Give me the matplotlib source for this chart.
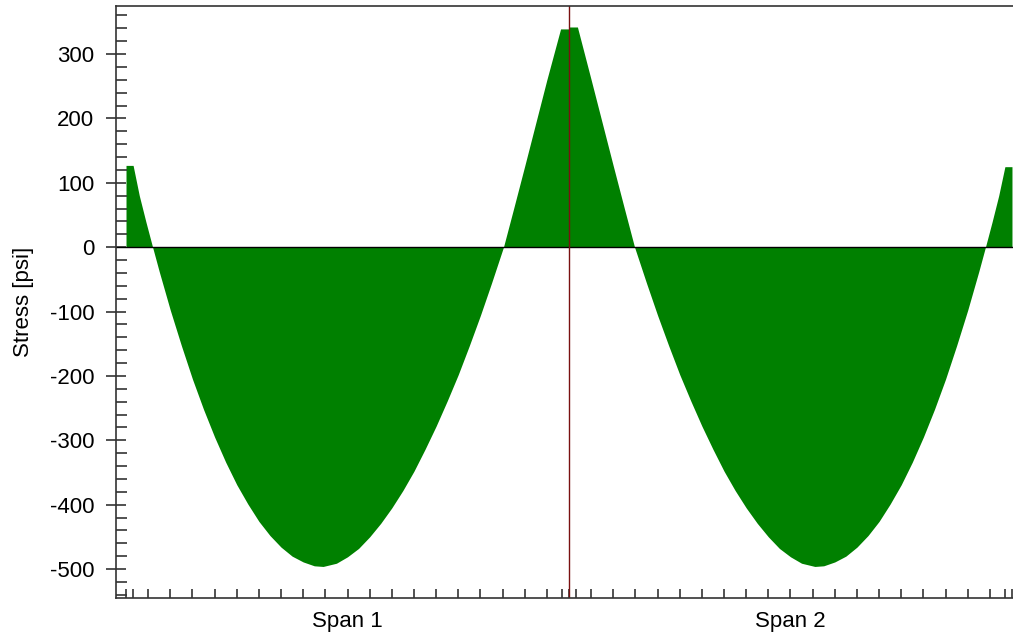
import matplotlib
matplotlib.use("Agg")
import matplotlib.pyplot as plt
from matplotlib.ticker import MultipleLocator, FixedLocator

# Position along the beam, in spans (0 = left support, 1 = middle support, 2 = right support)
span_pos = [
    0.000, 0.016, 0.030, 0.045, 0.060, 0.075, 0.100, 0.125, 0.150, 0.175,
    0.200, 0.225, 0.250, 0.275, 0.300, 0.325, 0.350, 0.375, 0.400, 0.425,
    0.445, 0.475, 0.500, 0.525, 0.550, 0.575, 0.600, 0.625, 0.650, 0.675,
    0.700, 0.725, 0.750, 0.775, 0.800, 0.825, 0.852, 0.875, 0.900, 0.925,
    0.950, 0.981, 1.000,
    1.000, 1.019, 1.050, 1.075, 1.100, 1.125, 1.148, 1.175, 1.200, 1.225,
    1.250, 1.275, 1.300, 1.325, 1.350, 1.375, 1.400, 1.425, 1.450, 1.475,
    1.500, 1.525, 1.555, 1.575, 1.600, 1.625, 1.650, 1.675, 1.700, 1.725,
    1.750, 1.775, 1.800, 1.825, 1.850, 1.875, 1.900, 1.925, 1.940, 1.955,
    1.970, 1.984, 2.000,
]
# Stress [psi]
stress = [
    127, 127, 80, 39, 0, -38, -98, -153, -205, -252,
    -295, -334, -369, -399, -426, -448, -466, -480, -489, -495,
    -496, -491, -481, -468, -450, -429, -405, -378, -348, -314,
    -278, -239, -198, -153, -106, -56, 0, 60, 126, 193,
    260, 339, 339,
    342, 342, 260, 193, 126, 60, 0, -56, -106, -153,
    -198, -239, -278, -314, -348, -378, -405, -429, -450, -468,
    -481, -491, -496, -495, -489, -480, -466, -448, -426, -399,
    -369, -334, -295, -252, -205, -153, -98, -38, 0, 39,
    80, 125, 125,
]

span_labels = ["Span 1", "Span 2"]
span_label_pos = [0.5, 1.5]
middle_support = 1.0
# tick marks along the beam: every 0.05 span plus the support faces
beam_ticks = [i * 0.05 for i in range(41)] + [0.016, 0.984, 1.016, 1.984]

plt.rcParams["font.family"] = ["Liberation Sans", "DejaVu Sans"]
plt.rcParams["axes.unicode_minus"] = False

W, H = 1013, 639
fig = plt.figure(figsize=(W / 100, H / 100), dpi=100)
ax = fig.add_axes([116 / W, 1 - 598 / H, (W - 116) / W, (598 - 6) / H])

ax.fill_between(span_pos, stress, 0, color="#008000", linewidth=0)
ax.axhline(0, color="black", lw=1.0)
ax.axvline(middle_support, color="#7a1010", lw=1.0)

ax.set_xlim(-0.0226, 2.0023)
ax.set_ylim(-545, 374.6)

spine_col = "#333333"
for s in ["left", "top", "bottom"]:
    ax.spines[s].set_color(spine_col)
    ax.spines[s].set_linewidth(1.2)
ax.spines["right"].set_visible(False)

# y axis
ax.yaxis.set_major_locator(MultipleLocator(100))
ax.yaxis.set_minor_locator(MultipleLocator(20))
ax.tick_params(axis="y", which="major", direction="inout", length=15, width=1.2,
               color=spine_col, labelsize=16, pad=8)
ax.tick_params(axis="y", which="minor", direction="in", length=8, width=1.2,
               color=spine_col)

# x axis
ax.xaxis.remove_overlapping_locs = False
ax.xaxis.set_major_locator(FixedLocator(span_label_pos))
ax.set_xticklabels(span_labels)
ax.xaxis.set_minor_locator(FixedLocator(beam_ticks))
ax.tick_params(axis="x", which="major", length=0, labelsize=16, pad=9)
ax.tick_params(axis="x", which="minor", direction="in", length=6.5, width=1.2,
               color=spine_col)

ax.set_ylabel("Stress [psi]", fontsize=16)
ax.yaxis.set_label_coords(-0.091, 0.5)

fig.savefig("out.png", dpi=100)
